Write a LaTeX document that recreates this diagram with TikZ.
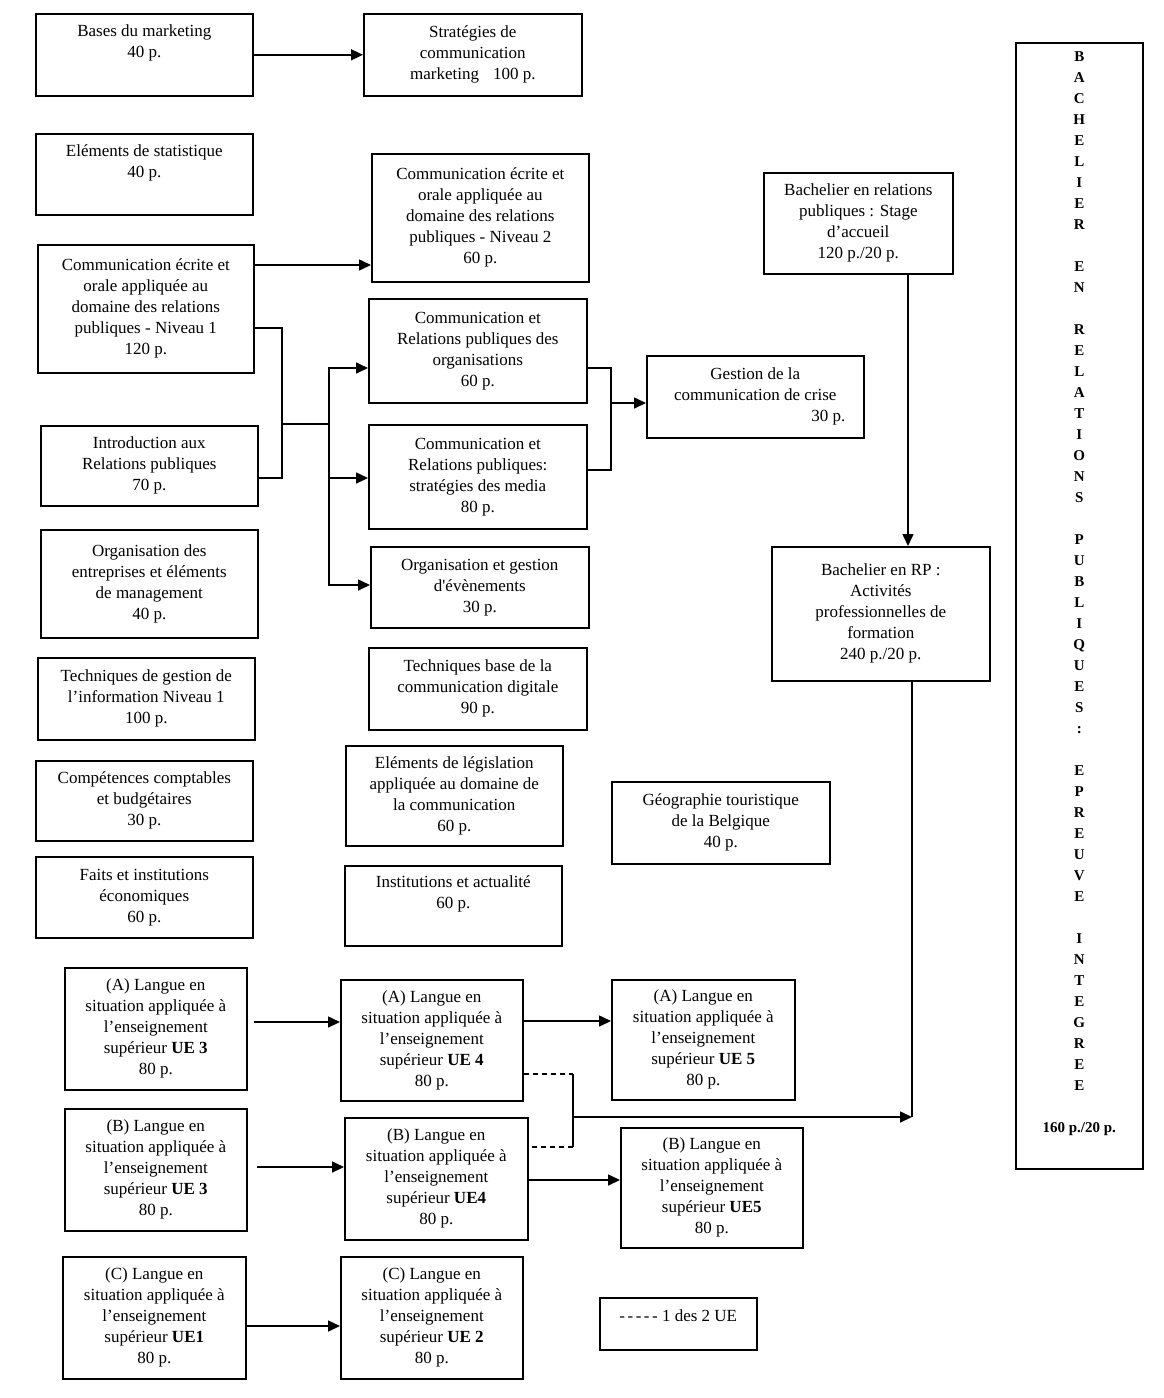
\documentclass[tikz,border=0pt]{standalone}
\usepackage{fontspec}
\setmainfont{Liberation Serif}
\usetikzlibrary{arrows.meta,calc}
\begin{document}
\begin{tikzpicture}[x=1pt,y=-1pt,
  box/.style={draw, line width=1.6pt, inner sep=0pt, align=center, anchor=north west,
    font=\fontsize{17}{21}\selectfont},
  conn/.style={line width=1.6pt},
  arr/.style={line width=1.6pt, -{Triangle[length=12pt,width=11pt]}},
  dsh/.style={line width=1.6pt, dash pattern=on 5pt off 4pt}]
\useasboundingbox (0,0) rectangle (1163,1398);
\newcommand{\bx}[6]{\node[box, minimum width=#4pt-#2pt, minimum height=#5pt-#3pt] (#1) at (#2,#3) {#6};}
\bx{bases}{35}{13}{252}{95}{Bases du marketing\\40 p.\\ \strut}
\bx{strat}{363}{13}{581}{95}{Stratégies de\\communication\\marketing\hspace{14pt}100 p.}
\bx{stat}{35}{133}{252}{214}{Eléments de statistique\\40 p.\\ \strut}
\bx{ntwo}{371}{153}{588}{281}{Communication écrite et\\orale appliquée au\\domaine des relations\\publiques - Niveau 2\\60 p.}
\bx{none}{37}{244}{253}{372}{Communication écrite et\\orale appliquée au\\domaine des relations\\publiques - Niveau 1\\120 p.}
\bx{orgs}{368}{298}{586}{402}{Communication et\\Relations publiques des\\organisations\\60 p.}
\bx{crise}{646}{355}{863}{437}{Gestion de la\\communication de crise\\\makebox[180pt][r]{30 p.}}
\bx{intro}{40}{425}{257}{505}{Introduction aux\\Relations publiques\\70 p.}
\bx{media}{368}{424}{586}{528}{Communication et\\Relations publiques:\\stratégies des media\\80 p.}
\bx{entr}{40}{529}{257}{637}{Organisation des\\entreprises et éléments\\de management\\40 p.}
\bx{evt}{370}{546}{588}{627}{Organisation et gestion\\d\textquotesingle évènements\\30 p.}
\bx{tgi}{37}{657}{254}{739}{Techniques de gestion de\\l’information Niveau 1\\100 p.}
\bx{tbd}{368}{647}{586}{729}{Techniques base de la\\communication digitale\\90 p.}
\bx{comp}{35}{760}{252}{840}{Compétences comptables\\et budgétaires\\30 p.}
\bx{legis}{345}{745}{562}{845}{Eléments de législation\\appliquée au domaine de\\la communication\\60 p.}
\bx{geo}{611}{781}{829}{863}{Géographie touristique\\de la Belgique\\40 p.}
\bx{faits}{35}{856}{252}{937}{Faits et institutions\\économiques\\60 p.}
\bx{inst}{344}{865}{561}{945}{Institutions et actualité\\60 p.\\ \strut}
\bx{stage}{763}{172}{952}{273}{Bachelier en relations\\publiques : Stage\\d’accueil\\120 p./20 p.}
\bx{rpact}{771}{546}{989}{680}{Bachelier en RP :\\Activités\\professionnelles de\\formation\\240 p./20 p.}
\bx{athree}{64}{967}{246}{1089}{(A) Langue en\\situation appliquée à\\l’enseignement\\supérieur \textbf{UE 3}\\80 p.}
\bx{afour}{340}{979}{522}{1100}{(A) Langue en\\situation appliquée à\\l’enseignement\\supérieur \textbf{UE 4}\\80 p.}
\bx{afive}{611}{979}{794}{1099}{(A) Langue en\\situation appliquée à\\l’enseignement\\supérieur \textbf{UE 5}\\80 p.}
\bx{bthree}{64}{1108}{246}{1230}{(B) Langue en\\situation appliquée à\\l’enseignement\\supérieur \textbf{UE 3}\\80 p.}
\bx{bfour}{344}{1117}{527}{1239}{(B) Langue en\\situation appliquée à\\l’enseignement\\supérieur \textbf{UE4}\\80 p.}
\bx{bfive}{620}{1127}{802}{1247}{(B) Langue en\\situation appliquée à\\l’enseignement\\supérieur \textbf{UE5}\\80 p.}
\bx{cone}{62}{1256}{245}{1378}{(C) Langue en\\situation appliquée à\\l’enseignement\\supérieur \textbf{UE1}\\80 p.}
\bx{ctwo}{340}{1256}{522}{1378}{(C) Langue en\\situation appliquée à\\l’enseignement\\supérieur \textbf{UE 2}\\80 p.}
\node[box, minimum width=157pt, text height=24pt, text depth=28pt] (legend) at (599,1297) {-\hspace{2.5pt}-\hspace{2.5pt}-\hspace{2.5pt}-\hspace{2.5pt}- 1 des 2 UE};
\node[box, minimum width=127pt, minimum height=1126pt, font=\fontsize{15}{21}\selectfont\bfseries] (big) at (1015,42)
 {B\\A\\C\\H\\E\\L\\I\\E\\R\\ \strut\\E\\N\\ \strut\\R\\E\\L\\A\\T\\I\\O\\N\\S\\ \strut\\P\\U\\B\\L\\I\\Q\\U\\E\\S\\:\\ \strut\\E\\P\\R\\E\\U\\V\\E\\ \strut\\I\\N\\T\\E\\G\\R\\E\\E\\ \strut\\160 p./20 p.\\ \strut};
% connectors
\draw[arr] (bases) -- (strat);
\draw[arr] (none.east |- 0,265) -- (ntwo.west |- 0,265);
\coordinate (ja) at (282,424);
\coordinate (jb) at (329,424);
\draw[conn] (none.east |- 0,328) -| (ja);
\draw[conn] (intro.east |- 0,478) -| (ja);
\draw[conn] (ja) -- (jb);
\draw[arr] (jb) |- (orgs.west |- 0,368);
\draw[arr] (jb) |- (media.west |- 0,478);
\draw[arr] (jb) |- (evt.west |- 0,585);
\coordinate (jc) at (611,403);
\draw[conn] (orgs.east |- 0,368) -| (jc);
\draw[conn] (media.east |- 0,470) -| (jc);
\draw[arr] (jc) -- (crise.west |- jc);
\draw[arr] (stage.south -| 908,0) -- (rpact.north -| 908,0);
\coordinate (jd) at (912,1117);
\draw[conn] (rpact.south -| jd) -- (jd);
\coordinate (je) at (573,1074);
\coordinate (jf) at (573,1147);
\coordinate (jg) at (573,1117);
\draw[dsh] (afour.east |- je) -- (je);
\draw[conn] (je) -- (jf);
\draw[dsh] (jf) -- (bfour.east |- jf);
\draw[arr] (jg) -- (jd);
\draw[arr] ([xshift=6pt]athree.east |- 0,1022) -- (afour.west |- 0,1022);
\draw[arr] (afour.east |- 0,1021) -- (afive.west |- 0,1021);
\draw[arr] ([xshift=9pt]bthree.east |- 0,1167) -- (bfour.west |- 0,1167);
\draw[arr] (bfour.east |- 0,1180) -- (bfive.west |- 0,1180);
\draw[arr] (cone.east |- 0,1326) -- (ctwo.west |- 0,1326);
\end{tikzpicture}
\end{document}
